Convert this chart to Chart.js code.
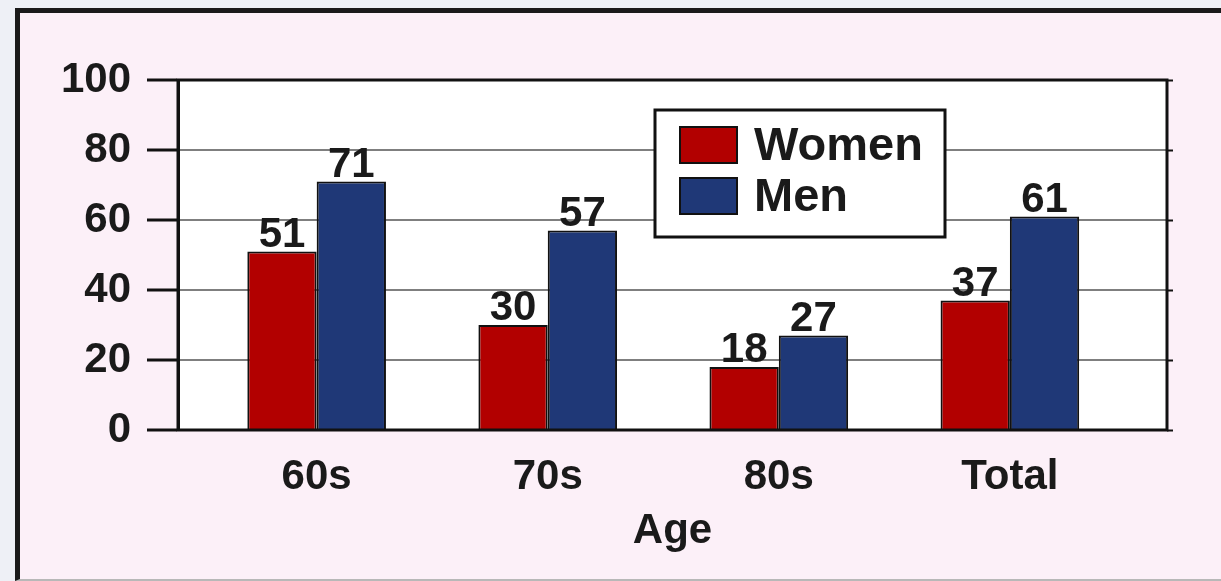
<!DOCTYPE html>
<html lang="en">
<head>
  <meta charset="UTF-8" />
  <title>Age and sex</title>
  <style>
    * {
      margin: 0;
      padding: 0;
      box-sizing: border-box;
    }

    body {
      background-color: #eef0f6;
      width: 1221px;
      height: 581px;
      overflow: hidden;
      position: relative;
    }

    .frame {
      position: absolute;
      left: 15px;
      top: 8px;
      width: 1220px;
      height: 573px;
      background-color: #fcf0f8;
      border-left: 5px solid #1a1a1a;
      border-top: 5px solid #1a1a1a;
      border-bottom: 2px solid #b8b8b8;
    }

    #ageChart {
      position: absolute;
      left: 0;
      top: 0;
    }
  </style>
</head>
<body>
  <div class="frame"></div>
  <canvas id="ageChart" width="1221" height="581"></canvas>

  <script src="https://cdn.jsdelivr.net/npm/chart.js"></script>
  <script>
    const ageGroups = ['60s', '70s', '80s', 'Total'];
    const women = [51, 30, 18, 37];
    const men = [71, 57, 27, 61];
    const seriesNames = ['Women', 'Men'];
    const seriesColors = ['#b20000', '#1f3877'];

    const font = "'Liberation Sans', Arial, sans-serif";

    // white plot box + black frame round it
    const plotBox = {
      id: 'plotBox',
      beforeDraw(chart) {
        const a = chart.chartArea;
        const ctx = chart.ctx;
        ctx.save();
        ctx.fillStyle = '#ffffff';
        ctx.fillRect(a.left, a.top, a.right - a.left, a.bottom - a.top);
        ctx.restore();
      },
      afterDatasetsDraw(chart) {
        const a = chart.chartArea;
        const ctx = chart.ctx;
        ctx.save();
        ctx.strokeStyle = '#111';
        ctx.lineWidth = 3;
        ctx.strokeRect(a.left, a.top, a.right - a.left, a.bottom - a.top);
        ctx.restore();
      }
    };

    // value labels over each bar
    const barValues = {
      id: 'barValues',
      afterDatasetsDraw(chart) {
        const ctx = chart.ctx;
        ctx.save();
        ctx.font = 'bold 42px ' + font;
        ctx.fillStyle = '#1a1a1a';
        ctx.textAlign = 'center';
        ctx.textBaseline = 'alphabetic';
        chart.data.datasets.forEach((ds, i) => {
          chart.getDatasetMeta(i).data.forEach((bar, j) => {
            ctx.fillText(ds.data[j].y, bar.x, bar.y - 5);
          });
        });
        ctx.restore();
      }
    };

    // legend box inside the plot
    const boxLegend = {
      id: 'boxLegend',
      afterDraw(chart) {
        const a = chart.chartArea;
        const ctx = chart.ctx;
        const x = a.left + 477;
        const y = a.top + 30;
        ctx.save();
        ctx.fillStyle = '#fff';
        ctx.fillRect(x, y, 290, 127);
        ctx.strokeStyle = '#111';
        ctx.lineWidth = 3;
        ctx.strokeRect(x, y, 290, 127);
        ctx.font = 'bold 47px ' + font;
        ctx.textBaseline = 'middle';
        seriesNames.forEach((name, i) => {
          const rowY = y + 35 + i * 51;
          ctx.fillStyle = seriesColors[i];
          ctx.fillRect(x + 25, rowY - 18, 57, 36);
          ctx.lineWidth = 2;
          ctx.strokeRect(x + 25, rowY - 18, 57, 36);
          ctx.fillStyle = '#1a1a1a';
          ctx.fillText(name, x + 99, rowY + 2);
        });
        ctx.restore();
      }
    };

    new Chart(document.getElementById('ageChart'), {
      type: 'bar',
      data: {
        datasets: [
          {
            label: seriesNames[0],
            data: women.map((v, i) => ({ x: i, y: v })),
            backgroundColor: seriesColors[0],
            borderColor: '#111',
            borderWidth: 2
          },
          {
            label: seriesNames[1],
            data: men.map((v, i) => ({ x: i, y: v })),
            backgroundColor: seriesColors[1],
            borderColor: '#111',
            borderWidth: 2
          }
        ]
      },
      options: {
        responsive: false,
        animation: false,
        categoryPercentage: 0.6,
        barPercentage: 1.0,
        layout: { padding: { top: 80, left: 0, right: 0, bottom: 0 } },
        plugins: {
          legend: { display: false },
          tooltip: { enabled: false }
        },
        scales: {
          x: {
            type: 'linear',
            min: -0.6,
            max: 3.68,
            offset: false,
            grid: { display: false, offset: false },
            border: { display: false },
            afterBuildTicks: scale => {
              scale.ticks = ageGroups.map((g, i) => ({ value: i }));
            },
            afterFit: scale => { scale.height = 151; },
            ticks: {
              autoSkip: false,
              maxRotation: 0,
              padding: 14,
              color: '#1a1a1a',
              font: { family: font, size: 42, weight: 'bold' },
              callback: v => ageGroups[v]
            },
            title: {
              display: true,
              text: 'Age',
              color: '#1a1a1a',
              font: { family: font, size: 42, weight: 'bold' },
              padding: { top: 0, bottom: 24 }
            }
          },
          y: {
            min: 0,
            max: 100,
            afterFit: scale => { scale.width = 178; },
            ticks: {
              stepSize: 20,
              padding: 16,
              color: '#1a1a1a',
              font: { family: font, size: 42, weight: 'bold' }
            },
            grid: {
              color: '#7f7f7f',
              lineWidth: 2,
              tickColor: '#111',
              tickWidth: 3,
              tickLength: 31
            },
            border: { color: '#111', width: 3 }
          },
          yRight: {
            position: 'right',
            min: 0,
            max: 100,
            afterFit: scale => { scale.width = 54; },
            ticks: { stepSize: 20, display: false },
            grid: {
              drawOnChartArea: false,
              tickColor: '#111',
              tickWidth: 2,
              tickLength: 6
            },
            border: { display: false }
          }
        }
      },
      plugins: [plotBox, barValues, boxLegend]
    });
  </script>
</body>
</html>
